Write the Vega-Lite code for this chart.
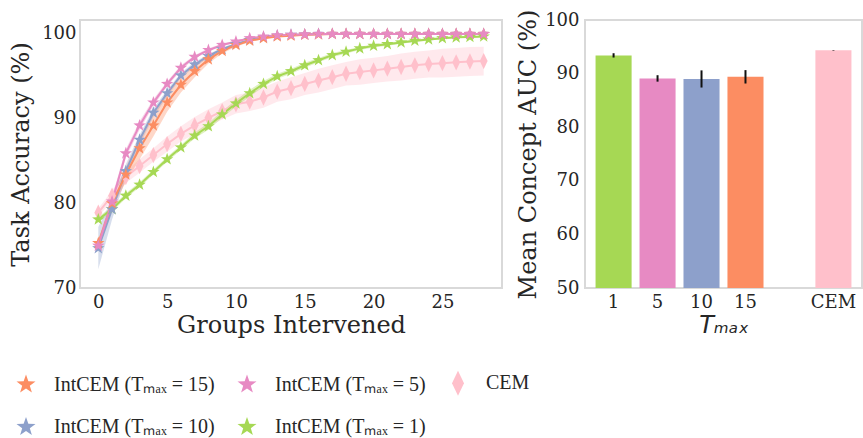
{
  "$schema": "https://vega.github.io/schema/vega-lite/v6.json",
  "background": "white",
  "padding": {"left": 8, "top": 8, "right": 0, "bottom": 0},
  "bounds": "flush",
  "spacing": 83,
  "resolve": {"scale": {"color": "independent", "x": "independent", "y": "independent", "shape": "independent"}},
  "config": {
    "font": "DejaVu Serif",
    "view": {"stroke": "#d9d9d9", "strokeWidth": 2},
    "axis": {"grid": false, "domain": false, "ticks": false, "labelFont": "DejaVu Serif", "labelFontSize": 18, "labelColor": "#262626", "titleFont": "DejaVu Serif", "titleFontSize": 24, "titleFontWeight": "normal", "titleColor": "#262626"}
  },
  "hconcat": [
    {
      "width": 422,
      "height": 268,
      "data": {"values": [
        {"m": "CEM", "g": 0, "acc": 78.9, "sd": 0.5}, {"m": "CEM", "g": 1, "acc": 80.9, "sd": 0.6}, {"m": "CEM", "g": 2, "acc": 83.1, "sd": 0.7}, {"m": "CEM", "g": 3, "acc": 84.4, "sd": 0.8}, {"m": "CEM", "g": 4, "acc": 85.7, "sd": 0.8}, {"m": "CEM", "g": 5, "acc": 87.0, "sd": 0.9}, {"m": "CEM", "g": 6, "acc": 88.2, "sd": 0.9}, {"m": "CEM", "g": 7, "acc": 89.2, "sd": 1.0}, {"m": "CEM", "g": 8, "acc": 90.1, "sd": 1.0}, {"m": "CEM", "g": 9, "acc": 90.9, "sd": 1.0}, {"m": "CEM", "g": 10, "acc": 91.7, "sd": 1.1}, {"m": "CEM", "g": 11, "acc": 92.0, "sd": 1.1}, {"m": "CEM", "g": 12, "acc": 92.5, "sd": 1.2}, {"m": "CEM", "g": 13, "acc": 93.2, "sd": 1.2}, {"m": "CEM", "g": 14, "acc": 93.6, "sd": 1.3}, {"m": "CEM", "g": 15, "acc": 94.1, "sd": 1.3}, {"m": "CEM", "g": 16, "acc": 94.5, "sd": 1.4}, {"m": "CEM", "g": 17, "acc": 94.9, "sd": 1.4}, {"m": "CEM", "g": 18, "acc": 95.3, "sd": 1.4}, {"m": "CEM", "g": 19, "acc": 95.5, "sd": 1.5}, {"m": "CEM", "g": 20, "acc": 95.7, "sd": 1.5}, {"m": "CEM", "g": 21, "acc": 95.9, "sd": 1.5}, {"m": "CEM", "g": 22, "acc": 96.1, "sd": 1.6}, {"m": "CEM", "g": 23, "acc": 96.3, "sd": 1.6}, {"m": "CEM", "g": 24, "acc": 96.45, "sd": 1.6}, {"m": "CEM", "g": 25, "acc": 96.55, "sd": 1.7}, {"m": "CEM", "g": 26, "acc": 96.65, "sd": 1.7}, {"m": "CEM", "g": 27, "acc": 96.75, "sd": 1.7}, {"m": "CEM", "g": 28, "acc": 96.8, "sd": 1.7},
        {"m": "IntCEM (Tₘₐₓ = 1)", "g": 0, "acc": 78.1, "sd": 0.3}, {"m": "IntCEM (Tₘₐₓ = 1)", "g": 1, "acc": 79.3, "sd": 0.3}, {"m": "IntCEM (Tₘₐₓ = 1)", "g": 2, "acc": 80.9, "sd": 0.3}, {"m": "IntCEM (Tₘₐₓ = 1)", "g": 3, "acc": 82.2, "sd": 0.3}, {"m": "IntCEM (Tₘₐₓ = 1)", "g": 4, "acc": 83.7, "sd": 0.3}, {"m": "IntCEM (Tₘₐₓ = 1)", "g": 5, "acc": 85.2, "sd": 0.3}, {"m": "IntCEM (Tₘₐₓ = 1)", "g": 6, "acc": 86.6, "sd": 0.3}, {"m": "IntCEM (Tₘₐₓ = 1)", "g": 7, "acc": 88.0, "sd": 0.35}, {"m": "IntCEM (Tₘₐₓ = 1)", "g": 8, "acc": 89.1, "sd": 0.4}, {"m": "IntCEM (Tₘₐₓ = 1)", "g": 9, "acc": 90.5, "sd": 0.4}, {"m": "IntCEM (Tₘₐₓ = 1)", "g": 10, "acc": 91.8, "sd": 0.4}, {"m": "IntCEM (Tₘₐₓ = 1)", "g": 11, "acc": 93.0, "sd": 0.4}, {"m": "IntCEM (Tₘₐₓ = 1)", "g": 12, "acc": 94.1, "sd": 0.35}, {"m": "IntCEM (Tₘₐₓ = 1)", "g": 13, "acc": 95.0, "sd": 0.3}, {"m": "IntCEM (Tₘₐₓ = 1)", "g": 14, "acc": 95.6, "sd": 0.3}, {"m": "IntCEM (Tₘₐₓ = 1)", "g": 15, "acc": 96.3, "sd": 0.3}, {"m": "IntCEM (Tₘₐₓ = 1)", "g": 16, "acc": 96.9, "sd": 0.25}, {"m": "IntCEM (Tₘₐₓ = 1)", "g": 17, "acc": 97.5, "sd": 0.25}, {"m": "IntCEM (Tₘₐₓ = 1)", "g": 18, "acc": 97.9, "sd": 0.2}, {"m": "IntCEM (Tₘₐₓ = 1)", "g": 19, "acc": 98.3, "sd": 0.2}, {"m": "IntCEM (Tₘₐₓ = 1)", "g": 20, "acc": 98.6, "sd": 0.2}, {"m": "IntCEM (Tₘₐₓ = 1)", "g": 21, "acc": 98.8, "sd": 0.2}, {"m": "IntCEM (Tₘₐₓ = 1)", "g": 22, "acc": 99.0, "sd": 0.15}, {"m": "IntCEM (Tₘₐₓ = 1)", "g": 23, "acc": 99.2, "sd": 0.15}, {"m": "IntCEM (Tₘₐₓ = 1)", "g": 24, "acc": 99.35, "sd": 0.15}, {"m": "IntCEM (Tₘₐₓ = 1)", "g": 25, "acc": 99.5, "sd": 0.1}, {"m": "IntCEM (Tₘₐₓ = 1)", "g": 26, "acc": 99.6, "sd": 0.1}, {"m": "IntCEM (Tₘₐₓ = 1)", "g": 27, "acc": 99.65, "sd": 0.1}, {"m": "IntCEM (Tₘₐₓ = 1)", "g": 28, "acc": 99.7, "sd": 0.1},
        {"m": "IntCEM (Tₘₐₓ = 10)", "g": 0, "acc": 74.7, "sd": 2.5}, {"m": "IntCEM (Tₘₐₓ = 10)", "g": 1, "acc": 79.3, "sd": 1.2}, {"m": "IntCEM (Tₘₐₓ = 10)", "g": 2, "acc": 83.8, "sd": 0.8}, {"m": "IntCEM (Tₘₐₓ = 10)", "g": 3, "acc": 87.5, "sd": 0.6}, {"m": "IntCEM (Tₘₐₓ = 10)", "g": 4, "acc": 90.7, "sd": 0.5}, {"m": "IntCEM (Tₘₐₓ = 10)", "g": 5, "acc": 93.0, "sd": 0.4}, {"m": "IntCEM (Tₘₐₓ = 10)", "g": 6, "acc": 95.1, "sd": 0.3}, {"m": "IntCEM (Tₘₐₓ = 10)", "g": 7, "acc": 96.4, "sd": 0.3}, {"m": "IntCEM (Tₘₐₓ = 10)", "g": 8, "acc": 97.4, "sd": 0.2}, {"m": "IntCEM (Tₘₐₓ = 10)", "g": 9, "acc": 98.2, "sd": 0.2}, {"m": "IntCEM (Tₘₐₓ = 10)", "g": 10, "acc": 98.8, "sd": 0.15}, {"m": "IntCEM (Tₘₐₓ = 10)", "g": 11, "acc": 99.3, "sd": 0.1}, {"m": "IntCEM (Tₘₐₓ = 10)", "g": 12, "acc": 99.6, "sd": 0.1}, {"m": "IntCEM (Tₘₐₓ = 10)", "g": 13, "acc": 99.8, "sd": 0.05}, {"m": "IntCEM (Tₘₐₓ = 10)", "g": 14, "acc": 99.9, "sd": 0.05}, {"m": "IntCEM (Tₘₐₓ = 10)", "g": 15, "acc": 99.95, "sd": 0.05}, {"m": "IntCEM (Tₘₐₓ = 10)", "g": 16, "acc": 100.0, "sd": 0.05}, {"m": "IntCEM (Tₘₐₓ = 10)", "g": 17, "acc": 100.0, "sd": 0.05}, {"m": "IntCEM (Tₘₐₓ = 10)", "g": 18, "acc": 100.0, "sd": 0.05}, {"m": "IntCEM (Tₘₐₓ = 10)", "g": 19, "acc": 100.0, "sd": 0.05}, {"m": "IntCEM (Tₘₐₓ = 10)", "g": 20, "acc": 100.0, "sd": 0.05}, {"m": "IntCEM (Tₘₐₓ = 10)", "g": 21, "acc": 100.0, "sd": 0.05}, {"m": "IntCEM (Tₘₐₓ = 10)", "g": 22, "acc": 100.0, "sd": 0.05}, {"m": "IntCEM (Tₘₐₓ = 10)", "g": 23, "acc": 100.0, "sd": 0.05}, {"m": "IntCEM (Tₘₐₓ = 10)", "g": 24, "acc": 100.0, "sd": 0.05}, {"m": "IntCEM (Tₘₐₓ = 10)", "g": 25, "acc": 100.0, "sd": 0.05}, {"m": "IntCEM (Tₘₐₓ = 10)", "g": 26, "acc": 100.0, "sd": 0.05}, {"m": "IntCEM (Tₘₐₓ = 10)", "g": 27, "acc": 100.0, "sd": 0.05}, {"m": "IntCEM (Tₘₐₓ = 10)", "g": 28, "acc": 100.0, "sd": 0.05},
        {"m": "IntCEM (Tₘₐₓ = 15)", "g": 0, "acc": 75.3, "sd": 0.4}, {"m": "IntCEM (Tₘₐₓ = 15)", "g": 1, "acc": 80.0, "sd": 0.6}, {"m": "IntCEM (Tₘₐₓ = 15)", "g": 2, "acc": 83.4, "sd": 0.9}, {"m": "IntCEM (Tₘₐₓ = 15)", "g": 3, "acc": 86.5, "sd": 1.3}, {"m": "IntCEM (Tₘₐₓ = 15)", "g": 4, "acc": 89.2, "sd": 1.3}, {"m": "IntCEM (Tₘₐₓ = 15)", "g": 5, "acc": 91.9, "sd": 1.1}, {"m": "IntCEM (Tₘₐₓ = 15)", "g": 6, "acc": 94.0, "sd": 0.9}, {"m": "IntCEM (Tₘₐₓ = 15)", "g": 7, "acc": 95.6, "sd": 0.7}, {"m": "IntCEM (Tₘₐₓ = 15)", "g": 8, "acc": 97.0, "sd": 0.5}, {"m": "IntCEM (Tₘₐₓ = 15)", "g": 9, "acc": 98.0, "sd": 0.3}, {"m": "IntCEM (Tₘₐₓ = 15)", "g": 10, "acc": 98.7, "sd": 0.2}, {"m": "IntCEM (Tₘₐₓ = 15)", "g": 11, "acc": 99.2, "sd": 0.15}, {"m": "IntCEM (Tₘₐₓ = 15)", "g": 12, "acc": 99.5, "sd": 0.1}, {"m": "IntCEM (Tₘₐₓ = 15)", "g": 13, "acc": 99.7, "sd": 0.1}, {"m": "IntCEM (Tₘₐₓ = 15)", "g": 14, "acc": 99.8, "sd": 0.05}, {"m": "IntCEM (Tₘₐₓ = 15)", "g": 15, "acc": 99.9, "sd": 0.05}, {"m": "IntCEM (Tₘₐₓ = 15)", "g": 16, "acc": 99.95, "sd": 0.05}, {"m": "IntCEM (Tₘₐₓ = 15)", "g": 17, "acc": 100.0, "sd": 0.05}, {"m": "IntCEM (Tₘₐₓ = 15)", "g": 18, "acc": 100.0, "sd": 0.05}, {"m": "IntCEM (Tₘₐₓ = 15)", "g": 19, "acc": 100.0, "sd": 0.05}, {"m": "IntCEM (Tₘₐₓ = 15)", "g": 20, "acc": 100.0, "sd": 0.05}, {"m": "IntCEM (Tₘₐₓ = 15)", "g": 21, "acc": 100.0, "sd": 0.05}, {"m": "IntCEM (Tₘₐₓ = 15)", "g": 22, "acc": 100.0, "sd": 0.05}, {"m": "IntCEM (Tₘₐₓ = 15)", "g": 23, "acc": 100.0, "sd": 0.05}, {"m": "IntCEM (Tₘₐₓ = 15)", "g": 24, "acc": 100.0, "sd": 0.05}, {"m": "IntCEM (Tₘₐₓ = 15)", "g": 25, "acc": 100.0, "sd": 0.05}, {"m": "IntCEM (Tₘₐₓ = 15)", "g": 26, "acc": 100.0, "sd": 0.05}, {"m": "IntCEM (Tₘₐₓ = 15)", "g": 27, "acc": 100.0, "sd": 0.05}, {"m": "IntCEM (Tₘₐₓ = 15)", "g": 28, "acc": 100.0, "sd": 0.05},
        {"m": "IntCEM (Tₘₐₓ = 5)", "g": 0, "acc": 75.0, "sd": 0.6}, {"m": "IntCEM (Tₘₐₓ = 5)", "g": 1, "acc": 80.2, "sd": 0.6}, {"m": "IntCEM (Tₘₐₓ = 5)", "g": 2, "acc": 85.9, "sd": 0.5}, {"m": "IntCEM (Tₘₐₓ = 5)", "g": 3, "acc": 89.2, "sd": 0.5}, {"m": "IntCEM (Tₘₐₓ = 5)", "g": 4, "acc": 91.9, "sd": 0.4}, {"m": "IntCEM (Tₘₐₓ = 5)", "g": 5, "acc": 94.1, "sd": 0.3}, {"m": "IntCEM (Tₘₐₓ = 5)", "g": 6, "acc": 96.0, "sd": 0.3}, {"m": "IntCEM (Tₘₐₓ = 5)", "g": 7, "acc": 97.3, "sd": 0.2}, {"m": "IntCEM (Tₘₐₓ = 5)", "g": 8, "acc": 98.1, "sd": 0.2}, {"m": "IntCEM (Tₘₐₓ = 5)", "g": 9, "acc": 98.7, "sd": 0.15}, {"m": "IntCEM (Tₘₐₓ = 5)", "g": 10, "acc": 99.1, "sd": 0.1}, {"m": "IntCEM (Tₘₐₓ = 5)", "g": 11, "acc": 99.5, "sd": 0.1}, {"m": "IntCEM (Tₘₐₓ = 5)", "g": 12, "acc": 99.7, "sd": 0.05}, {"m": "IntCEM (Tₘₐₓ = 5)", "g": 13, "acc": 99.85, "sd": 0.05}, {"m": "IntCEM (Tₘₐₓ = 5)", "g": 14, "acc": 99.9, "sd": 0.05}, {"m": "IntCEM (Tₘₐₓ = 5)", "g": 15, "acc": 99.95, "sd": 0.05}, {"m": "IntCEM (Tₘₐₓ = 5)", "g": 16, "acc": 100.0, "sd": 0.05}, {"m": "IntCEM (Tₘₐₓ = 5)", "g": 17, "acc": 100.0, "sd": 0.05}, {"m": "IntCEM (Tₘₐₓ = 5)", "g": 18, "acc": 100.0, "sd": 0.05}, {"m": "IntCEM (Tₘₐₓ = 5)", "g": 19, "acc": 100.0, "sd": 0.05}, {"m": "IntCEM (Tₘₐₓ = 5)", "g": 20, "acc": 100.0, "sd": 0.05}, {"m": "IntCEM (Tₘₐₓ = 5)", "g": 21, "acc": 100.0, "sd": 0.05}, {"m": "IntCEM (Tₘₐₓ = 5)", "g": 22, "acc": 100.0, "sd": 0.05}, {"m": "IntCEM (Tₘₐₓ = 5)", "g": 23, "acc": 100.0, "sd": 0.05}, {"m": "IntCEM (Tₘₐₓ = 5)", "g": 24, "acc": 100.0, "sd": 0.05}, {"m": "IntCEM (Tₘₐₓ = 5)", "g": 25, "acc": 100.0, "sd": 0.05}, {"m": "IntCEM (Tₘₐₓ = 5)", "g": 26, "acc": 100.0, "sd": 0.05}, {"m": "IntCEM (Tₘₐₓ = 5)", "g": 27, "acc": 100.0, "sd": 0.05}, {"m": "IntCEM (Tₘₐₓ = 5)", "g": 28, "acc": 100.0, "sd": 0.05}
      ]},
      "encoding": {
        "x": {"field": "g", "type": "quantitative", "scale": {"domain": [-1.33, 29.33], "nice": false, "zero": false}, "axis": {"values": [0, 5, 10, 15, 20, 25], "title": "Groups Intervened", "labelPadding": 5, "titlePadding": 2}},
        "y": {"field": "acc", "type": "quantitative", "scale": {"domain": [70, 101.65], "nice": false, "zero": false}, "axis": {"values": [70, 80, 90, 100], "title": "Task Accuracy (%)", "labelPadding": 4, "titlePadding": 8}},
        "color": {"field": "m", "type": "nominal", "sort": null, "scale": {"domain": ["IntCEM (Tₘₐₓ = 15)", "IntCEM (Tₘₐₓ = 10)", "IntCEM (Tₘₐₓ = 5)", "IntCEM (Tₘₐₓ = 1)", "CEM"], "range": ["#fc8d62", "#8da0cb", "#e78ac3", "#a6d854", "#ffc0cb"]},
          "legend": {"title": null, "orient": "none", "legendX": -64, "legendY": 353, "columns": 3, "columnPadding": 22, "rowPadding": 21, "symbolSize": 400, "labelFont": "Liberation Serif", "labelFontSize": 20, "labelLimit": 0, "labelColor": "#262626", "labelOffset": 18, "padding": 0, "symbolStrokeWidth": 0, "symbolOpacity": 1}}
      },
      "layer": [
        {"mark": {"type": "errorband", "band": {"opacity": 0.35}, "borders": false}, "encoding": {"yError": {"field": "sd"}}},
        {"mark": {"type": "line", "strokeWidth": 2}},
        {"mark": {"type": "point", "filled": true, "size": 170, "opacity": 1},
          "encoding": {"shape": {"field": "m", "type": "nominal", "sort": null, "scale": {"domain": ["IntCEM (Tₘₐₓ = 15)", "IntCEM (Tₘₐₓ = 10)", "IntCEM (Tₘₐₓ = 5)", "IntCEM (Tₘₐₓ = 1)", "CEM"], "range": ["M0,-1L0.235,-0.324L0.951,-0.309L0.38,0.124L0.588,0.809L0,0.4L-0.588,0.809L-0.38,0.124L-0.951,-0.309L-0.235,-0.324Z", "M0,-1L0.235,-0.324L0.951,-0.309L0.38,0.124L0.588,0.809L0,0.4L-0.588,0.809L-0.38,0.124L-0.951,-0.309L-0.235,-0.324Z", "M0,-1L0.235,-0.324L0.951,-0.309L0.38,0.124L0.588,0.809L0,0.4L-0.588,0.809L-0.38,0.124L-0.951,-0.309L-0.235,-0.324Z", "M0,-1L0.235,-0.324L0.951,-0.309L0.38,0.124L0.588,0.809L0,0.4L-0.588,0.809L-0.38,0.124L-0.951,-0.309L-0.235,-0.324Z", "M0,-1.25L0.6,0L0,1.25L-0.6,0Z"]},
            "legend": {"title": null, "orient": "none", "legendX": -64, "legendY": 353, "columns": 3, "columnPadding": 22, "rowPadding": 21, "symbolSize": 400, "labelFont": "Liberation Serif", "labelFontSize": 20, "labelLimit": 0, "labelColor": "#262626", "labelOffset": 18, "padding": 0, "symbolStrokeWidth": 0, "symbolOpacity": 1}}}}
      ]
    },
    {
      "width": 277,
      "height": 268,
      "data": {"values": [
        {"t": "1", "m": "IntCEM (Tₘₐₓ = 1)", "auc": 93.4, "err": 0.4},
        {"t": "5", "m": "IntCEM (Tₘₐₓ = 5)", "auc": 89.1, "err": 0.6},
        {"t": "10", "m": "IntCEM (Tₘₐₓ = 10)", "auc": 89.0, "err": 1.6},
        {"t": "15", "m": "IntCEM (Tₘₐₓ = 15)", "auc": 89.4, "err": 1.25},
        {"t": "CEM", "m": "CEM", "auc": 94.35, "err": 0.05}
      ]},
      "encoding": {
        "x": {"field": "t", "type": "nominal", "scale": {"domain": ["1", "5", "10", "15", " ", "CEM"], "paddingInner": 0.18, "paddingOuter": 0.24}, "axis": {"labelAngle": 0, "title": "Tₘₐₓ", "titleFont": "DejaVu Sans", "titleFontStyle": "italic", "labelPadding": 5, "titlePadding": 2}},
        "y": {"field": "auc", "type": "quantitative", "scale": {"domain": [50, 100], "nice": false, "zero": false}, "axis": {"values": [50, 60, 70, 80, 90, 100], "title": "Mean Concept AUC (%)", "labelPadding": 6, "titlePadding": 4}}
      },
      "layer": [
        {"mark": {"type": "bar", "clip": true},
          "encoding": {
            "color": {"field": "m", "type": "nominal", "scale": {"domain": ["IntCEM (Tₘₐₓ = 15)", "IntCEM (Tₘₐₓ = 10)", "IntCEM (Tₘₐₓ = 5)", "IntCEM (Tₘₐₓ = 1)", "CEM"], "range": ["#fc8d62", "#8da0cb", "#e78ac3", "#a6d854", "#ffc0cb"]}, "legend": null}
          }},
        {"mark": {"type": "errorbar", "ticks": false, "color": "#111111", "thickness": 2},
          "encoding": {"yError": {"field": "err"}}}
      ]
    }
  ]
}
